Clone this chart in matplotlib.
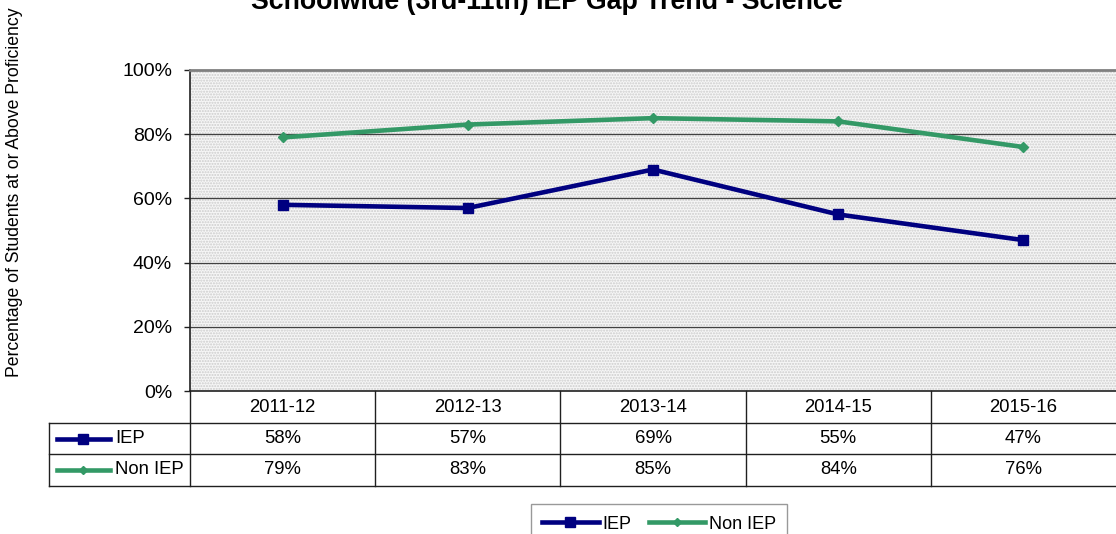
import matplotlib
matplotlib.use("Agg")
import matplotlib.pyplot as plt
from matplotlib.lines import Line2D
from matplotlib.patches import Rectangle
import matplotlib.transforms as mtransforms

categories = ["2011-12", "2012-13", "2013-14", "2014-15", "2015-16"]
iep = [58, 57, 69, 55, 47]
non_iep = [79, 83, 85, 84, 76]
yticks = [0, 20, 40, 60, 80, 100]
ytick_labels = ["0%", "20%", "40%", "60%", "80%", "100%"]
series_names = ["IEP", "Non IEP"]
title = "Schoolwide (3rd-11th) IEP Gap Trend - Science"
ylabel = "Percentage of Students at or Above Proficiency"

IEP_COLOR = "#000080"
NON_COLOR = "#339966"

plt.rcParams['font.family'] = ['Liberation Sans', 'DejaVu Sans']
plt.rcParams['hatch.linewidth'] = 1.0

W, H = 1116, 534
fig = plt.figure(figsize=(W / 100, H / 100), dpi=100)

def fx(px):
    return px / W

def fy(py):
    return 1 - py / H

ax_left, ax_right, ax_top, ax_bot = 190, 1116, 70, 391
ax = fig.add_axes([fx(ax_left), fy(ax_bot), fx(ax_right - ax_left), (ax_bot - ax_top) / H])

# background pattern
ax.add_patch(Rectangle((0, 0), 1, 1, transform=ax.transAxes, facecolor="#f6f6f6",
                       edgecolor="#cccccc", hatch="......", lw=0, zorder=0))

x = list(range(len(categories)))
ax.plot(x, iep, color=IEP_COLOR, lw=3.3, marker="s", ms=7.5, zorder=4, label=series_names[0])
ax.plot(x, non_iep, color=NON_COLOR, lw=3.3, marker="D", ms=5.5, zorder=4, label=series_names[1])

ax.set_xlim(-0.5, len(categories) - 0.5)
ax.set_ylim(0, 100)
ax.set_yticks(yticks)
ax.set_yticklabels(ytick_labels, fontsize=14)
ax.set_xticks([])
for yv in yticks[1:-1]:
    ax.axhline(yv, color="#404040", lw=0.9, zorder=2)
ax.spines["top"].set_color("#808080")
ax.spines["top"].set_linewidth(2)
ax.spines["right"].set_visible(False)
ax.spines["left"].set_color("#202020")
ax.spines["left"].set_linewidth(1.2)
ax.spines["bottom"].set_color("#202020")
ax.spines["bottom"].set_linewidth(1.2)
ax.tick_params(axis="y", length=4.3, width=1, color="#202020", pad=8.6)

# title (partly cut off at the top, as in the reference)
fig.text(fx(547), fy(9), title, ha="center", va="baseline", fontsize=19.3, fontweight="bold")

# y label
fig.text(fx(15), fy(192), ylabel, rotation=90, ha="center", va="center", fontsize=12.7)

# data table
row_lines = [391, 423, 454, 486]
legend_left = 49
tr = mtransforms.blended_transform_factory(ax.transData, fig.transFigure)
line_kw = dict(color="#202020", lw=1.0, clip_on=False)

for py in row_lines[1:]:
    fig.add_artist(Line2D([fx(legend_left), fx(W)], [fy(py), fy(py)], transform=fig.transFigure, **line_kw))
fig.add_artist(Line2D([fx(legend_left), fx(legend_left)], [fy(row_lines[1]), fy(row_lines[3])],
                      transform=fig.transFigure, **line_kw))
for i in range(len(categories)):
    xb = i - 0.5
    fig.add_artist(Line2D([xb, xb], [fy(row_lines[0]), fy(row_lines[3])], transform=tr, **line_kw))

rows = [iep, non_iep]
for i, c in enumerate(categories):
    fig.text(i, fy((row_lines[0] + row_lines[1]) / 2), c, transform=tr, ha="center", va="center", fontsize=13.3)
    for r, vals in enumerate(rows):
        yc = fy((row_lines[r + 1] + row_lines[r + 2]) / 2)
        fig.text(i, yc, f"{vals[i]}%", transform=tr, ha="center", va="center", fontsize=13.3)

# legend keys in table
styles = [(IEP_COLOR, "s", 7), (NON_COLOR, "D", 4.5)]
for r, (col, mk, ms) in enumerate(styles):
    yc = fy((row_lines[r + 1] + row_lines[r + 2]) / 2)
    fig.add_artist(Line2D([fx(57), fx(110)], [yc, yc], transform=fig.transFigure, color=col, lw=3.3))
    fig.add_artist(Line2D([fx(83)], [yc], transform=fig.transFigure, color=col, marker=mk, ms=ms, lw=0))
    fig.text(fx(115), yc, series_names[r], ha="left", va="center", fontsize=13.3)

# bottom legend
handles = [Line2D([], [], color=IEP_COLOR, lw=3.3, marker="s", ms=7),
           Line2D([], [], color=NON_COLOR, lw=3.3, marker="D", ms=4.5)]
leg = fig.legend(handles, series_names, loc="upper center", bbox_to_anchor=(fx(659), fy(504)),
                 ncol=2, frameon=True, fancybox=False, fontsize=13, handlelength=3.15,
                 columnspacing=0.95, handletextpad=0.2, borderpad=0.6, borderaxespad=0,
                 handleheight=0.9)
leg.get_frame().set_edgecolor("#808080")
leg.get_frame().set_linewidth(1.0)

fig.savefig("out.png", dpi=100)
